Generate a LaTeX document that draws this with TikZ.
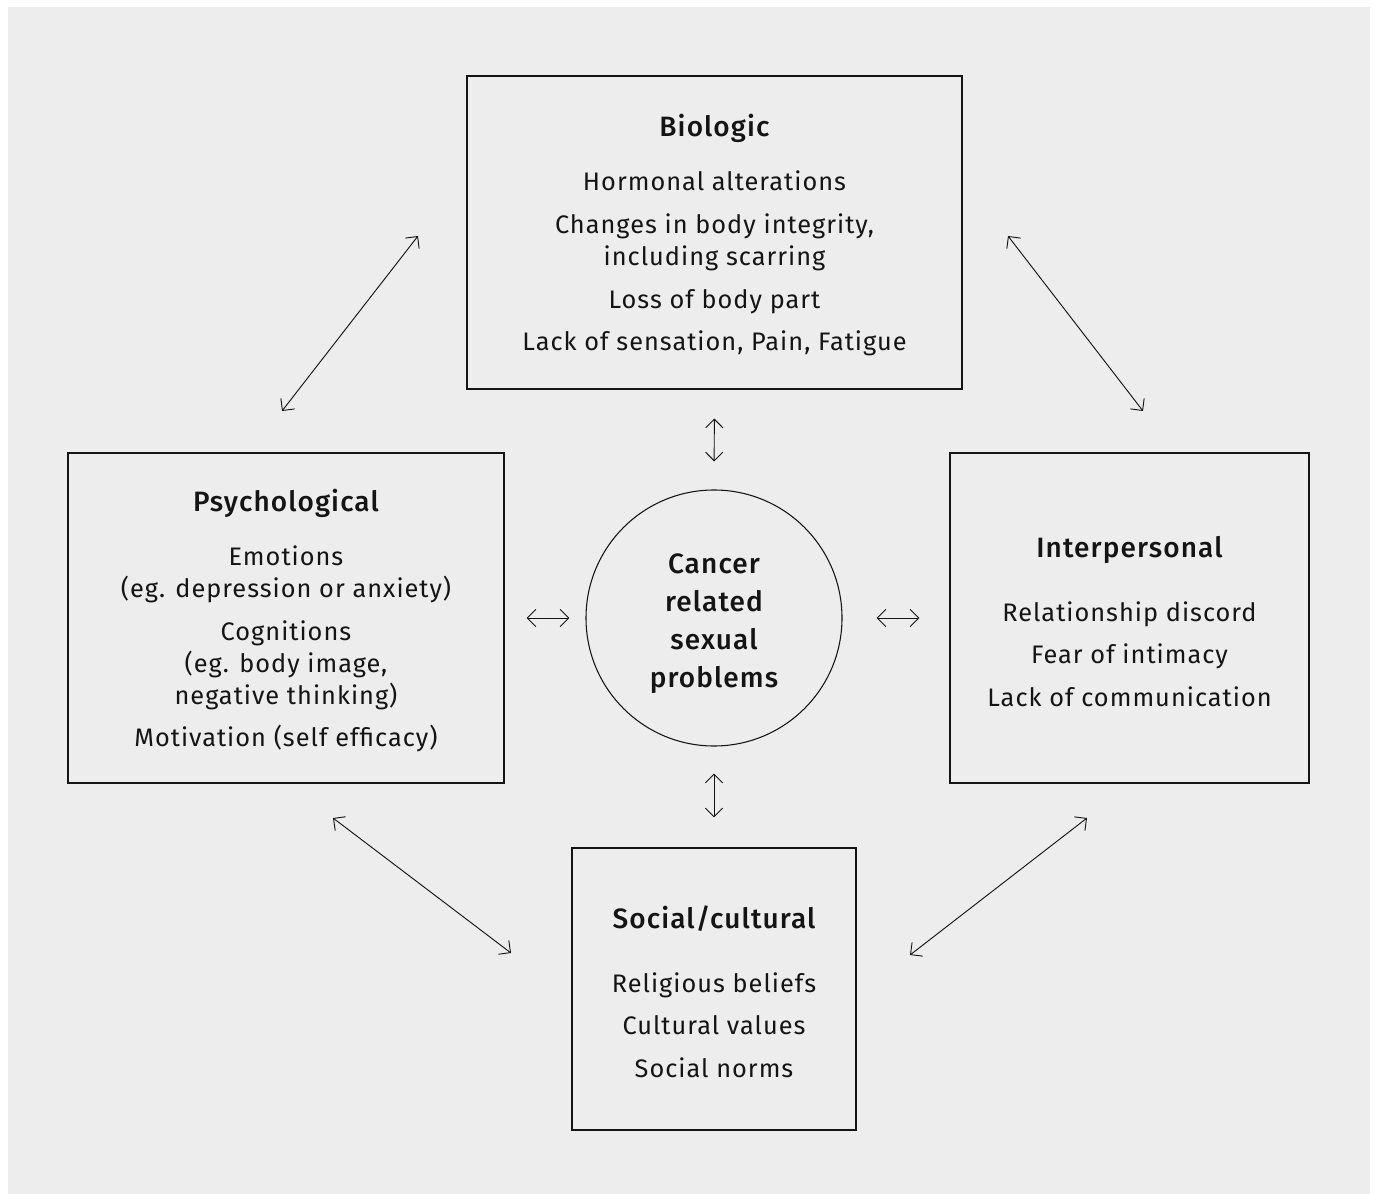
\documentclass[tikz,border=0pt]{standalone}
\usepackage{fontspec}
\setmainfont{Fira Sans}[LetterSpace=4.0, BoldFont={Fira Sans Medium}]
\definecolor{panelgrey}{RGB}{237,237,237}
\definecolor{inkblack}{RGB}{20,20,20}
\usetikzlibrary{arrows.meta,positioning,calc}

\begin{document}
\begin{tikzpicture}[x=0.75pt,y=-0.75pt,
    factorbox/.style={draw=inkblack, line width=0.8pt, inner sep=0pt, align=center,
        font=\fontsize{19}{24}\selectfont, text=inkblack},
    centrecircle/.style={draw=inkblack, line width=0.8pt, circle, inner sep=0pt, align=center,
        minimum size=192pt, font=\bfseries\fontsize{21}{28.5}\selectfont, text=inkblack},
    linkarrow/.style={draw=inkblack, line width=0.7pt, {Straight Barb[length=6.5pt,width=13pt]}-{Straight Barb[length=6.5pt,width=13pt]}}]
    % background panel
    \useasboundingbox (0,0) rectangle (1375,1194);
    \fill[white] (0,0) rectangle (1375,1194);
    \fill[panelgrey] (8,7) rectangle (1370,1194);

    \node[factorbox, minimum width=371.25pt, minimum height=234.75pt] (bio) at (714.5,232.5) {
        {\bfseries\fontsize{21}{24}\selectfont\rule{0pt}{21pt}Biologic}\\[16.5pt]
        Hormonal alterations\\[8pt]
        Changes in body integrity,\\
        including scarring\\[8pt]
        Loss of body part\\[8pt]
        Lack of sensation, Pain, Fatigue
    };
    \node[factorbox, minimum width=327pt, minimum height=247.5pt] (psych) at (286,618) {
        {\bfseries\fontsize{21}{24}\selectfont\rule{0pt}{21pt}Psychological}\\[16.5pt]
        Emotions\\
        (eg. depression or anxiety)\\[8pt]
        Cognitions\\
        (eg. body image,\\
        negative thinking)\\[8pt]
        Motivation (self efficacy)
    };
    \node[factorbox, minimum width=269.25pt, minimum height=247.5pt] (inter) at (1129.5,618) {
        {\bfseries\fontsize{21}{24}\selectfont\rule{0pt}{21pt}Interpersonal}\\[24pt]
        Relationship discord\\[8pt]
        Fear of intimacy\\[8pt]
        Lack of communication
    };
    \node[factorbox, minimum width=213pt, minimum height=211.5pt] (social) at (714,989) {
        {\bfseries\fontsize{21}{24}\selectfont\rule{0pt}{21pt}Social/cultural}\\[24pt]
        Religious beliefs\\[8pt]
        Cultural values\\[8pt]
        Social norms
    };
    \node[centrecircle] (cancer) at (714,618) {\rule{0pt}{24pt}Cancer\\related\\sexual\\problems};

    % links to the centre
    \draw[linkarrow, shorten <=21.75pt, shorten >=21pt] (bio.south) -- (cancer.north);
    \draw[linkarrow, shorten <=16.5pt, shorten >=12pt] (psych.east) -- (cancer.west);
    \draw[linkarrow, shorten <=25.5pt, shorten >=22.5pt] (cancer.east) -- (inter.west);
    \draw[linkarrow, shorten <=20.25pt, shorten >=22.5pt] (cancer.south) -- (social.north);

    % links round the outside
    \coordinate (psychtop) at (282,411);
    \coordinate (biolft) at (418,236);
    \coordinate (biorgt) at (1008,236);
    \coordinate (intertop) at (1143,411);
    \coordinate (psychbot) at (333,818);
    \coordinate (soclft) at (511,953);
    \coordinate (socrgt) at (910,955);
    \coordinate (interbot) at (1087,818);
    \draw[linkarrow] (psychtop) -- (biolft);
    \draw[linkarrow] (biorgt) -- (intertop);
    \draw[linkarrow] (psychbot) -- (soclft);
    \draw[linkarrow] (socrgt) -- (interbot);
\end{tikzpicture}
\end{document}
